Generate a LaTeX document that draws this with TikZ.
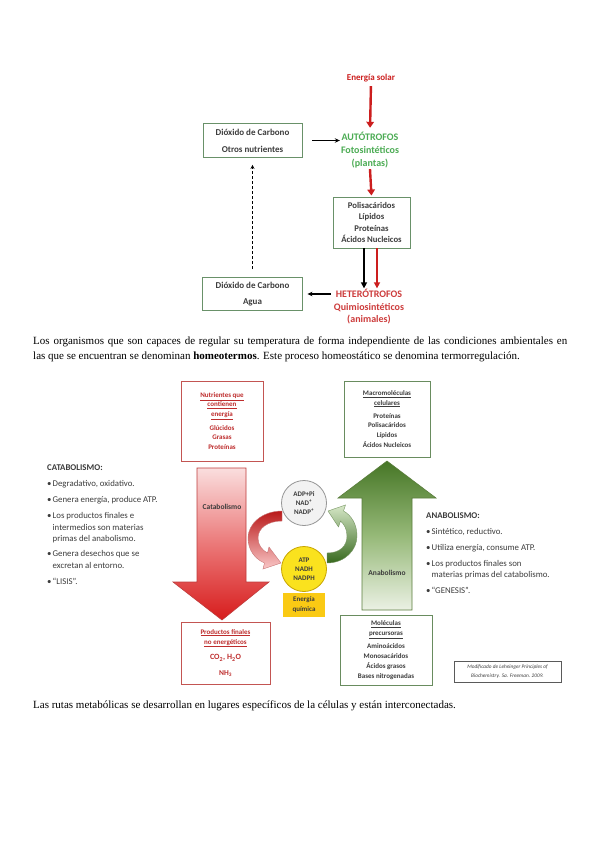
\documentclass[tikz,border=0pt]{standalone}
\usepackage{fontspec}
\setmainfont{Liberation Serif}
\newfontfamily\calib{Carlito}
\usetikzlibrary{arrows.meta}
\definecolor{tgreen}{RGB}{105,145,105}
\definecolor{autgreen}{RGB}{76,172,84}
\definecolor{sred}{RGB}{204,30,30}
\definecolor{hetred}{RGB}{205,60,60}
\definecolor{txtgray}{RGB}{60,60,60}
\definecolor{bred}{RGB}{195,85,82}
\definecolor{bredtext}{RGB}{190,45,45}
\definecolor{bgreen}{RGB}{105,140,95}
\definecolor{pinkt}{RGB}{250,222,222}
\definecolor{redb}{RGB}{215,28,28}
\definecolor{redborder}{RGB}{190,60,60}
\definecolor{gdark}{RGB}{70,118,38}
\definecolor{gmid}{RGB}{150,185,120}
\definecolor{glight}{RGB}{235,241,228}
\definecolor{gborder}{RGB}{90,125,60}
\definecolor{adpfill}{RGB}{242,242,242}
\definecolor{adpborder}{RGB}{150,150,150}
\definecolor{atpfill}{RGB}{250,226,30}
\definecolor{atpborder}{RGB}{200,165,0}
\definecolor{enerfill}{RGB}{250,202,20}
\definecolor{cvredt}{RGB}{185,25,25}
\definecolor{cvredbot}{RGB}{250,200,200}
\definecolor{cvredline}{RGB}{200,120,120}
\definecolor{cvgrt}{RGB}{215,232,200}
\definecolor{cvgrbot}{RGB}{55,105,30}
\definecolor{cvgrline}{RGB}{120,150,100}
\definecolor{citeborder}{RGB}{90,90,90}
\newcommand{\mybul}{\makebox[5.5pt][l]{\textbullet}}
\begin{document}
\begin{tikzpicture}[x=1pt,y=-1pt,
  topbox/.style={draw=tgreen, line width=0.9pt, inner sep=0pt, align=center, text=txtgray, font=\calib\bfseries\fontsize{9}{17}\selectfont},
  redbox/.style={draw=bred, line width=0.8pt, inner sep=0pt, align=center, text=bredtext, font=\calib\bfseries\fontsize{7}{9.5}\selectfont},
  grnbox/.style={draw=bgreen, line width=0.8pt, inner sep=0pt, align=center, text=txtgray, font=\calib\bfseries\fontsize{7}{9.8}\selectfont},
  redarr/.style={draw=sred, line width=2.4pt, -{Triangle[length=6pt,width=7.5pt]}},
  blkarr/.style={draw=black, line width=1.2pt, -{Stealth[length=5pt,width=4.5pt]}},
  downarr/.style={line width=2pt, -{Triangle[length=6pt,width=6pt]}},
  listtxt/.style={anchor=base west, inner sep=0pt, text=txtgray, font=\calib\fontsize{8.8}{11.5}\selectfont},
  listhead/.style={anchor=base west, inner sep=0pt, text=txtgray, font=\calib\bfseries\fontsize{8.8}{11.5}\selectfont},
  para/.style={anchor=base west, inner sep=0pt, font=\fontsize{11}{13}\selectfont},
  cnode/.style={circle, minimum size=45pt, inner sep=0pt, line width=0.8pt, align=center, text=txtgray, font=\calib\bfseries\fontsize{7}{9}\selectfont},
  biglbl/.style={text=txtgray, font=\calib\bfseries\fontsize{7.5}{9}\selectfont}
  ]
\useasboundingbox[fill=white] (0,0) rectangle (599,848);

% ---------- top diagram ----------
\node[font=\calib\bfseries\fontsize{9}{10}\selectfont, text=sred, inner sep=1pt] (sol) at (371,78) {Energía solar};
\node[font=\calib\bfseries\fontsize{10}{13}\selectfont, text=autgreen, align=center, inner sep=1pt] (aut) at (370,150) {AUTÓTROFOS\\Fotosintéticos\\(plantas)};
\node[topbox, minimum width=99pt, minimum height=34pt] (co2a) at (252.5,140.5) {Dióxido de Carbono\\Otros nutrientes};
\node[topbox, minimum width=77pt, minimum height=51pt, font=\calib\bfseries\fontsize{8.7}{11.3}\selectfont] (poli) at (371.5,222.5) {Polisacáridos\\Lípidos\\Proteínas\\Ácidos Nucleicos};
\node[font=\calib\bfseries\fontsize{10}{12.5}\selectfont, text=hetred, align=center, inner sep=1pt] (het) at (369,307) {HETERÓTROFOS\\Quimiosintéticos\\(animales)};
\node[topbox, minimum width=100pt, minimum height=33pt, font=\calib\bfseries\fontsize{9}{16}\selectfont] (co2b) at (252.5,294) {Dióxido de Carbono\\Agua};

\draw[redarr, shorten <=3pt, shorten >=3pt] (sol.south) -- (aut.north);
\draw[redarr, shorten >=1pt] (aut.south) -- (poli.north);
\draw[blkarr, shorten <=10pt] (co2a.east) -- (co2a.east -| aut.west);
\draw[downarr, draw=black] ([xshift=-7.5pt]poli.south) -- ([xshift=-7.5pt]poli.south |- het.north);
\draw[downarr, draw=sred] ([xshift=5.5pt]poli.south) -- ([xshift=5.5pt]poli.south |- het.north);
\draw[blkarr, shorten <=2pt, shorten >=4.5pt] (het.west |- co2b.east) -- (co2b.east);
\draw[line width=1.3pt, dashed, dash pattern=on 3pt off 2pt, -{Stealth[length=4pt,width=4pt]}, shorten <=8pt, shorten >=7pt] (co2b.north) -- (co2a.south);

% ---------- paragraph ----------
\node[para] (p1) at (33,344.5) {\makebox[534pt][s]{Los organismos que son capaces de regular su temperatura de forma independiente de las condiciones ambientales en}};
\node[para] (p2) at (33,359.5) {las que se encuentran se denominan \textbf{homeotermos}. Este proceso homeostático se denomina termorregulación.};

% ---------- bottom diagram ----------
\node[redbox, minimum width=82pt, minimum height=80pt] (nutr) at (222,421) {\underline{Nutrientes que}\\\underline{contienen}\\\underline{energía}\\[4.5pt]Glúcidos\\Grasas\\Proteínas};
\node[grnbox, minimum width=86pt, minimum height=76pt] (macro) at (387,419) {\underline{Macromoléculas}\\\underline{celulares}\\[3.3pt]Proteínas\\Polisacáridos\\Lípidos\\Ácidos Nucleicos};

% big red arrow (catabolism)
\path[draw=redborder, line width=0.6pt, top color=pinkt, bottom color=redb, middle color={rgb,255:red,235;green,120;blue,120}]
  (197,468) -- (246,468) -- (246,582) -- (269,582) -- (222,620) -- (173,582) -- (197,582) -- cycle;
\node[biglbl] (catl) at (222,507) {Catabolismo};

% big green arrow (anabolism)
\path[draw=gborder, line width=0.6pt, top color=gdark, bottom color=glight, middle color=gmid]
  (362,610) -- (362,498) -- (338,498) -- (387,461) -- (436,498) -- (412,498) -- (412,610) -- cycle;
\node[biglbl] (anal) at (387,573) {Anabolismo};

\node[redbox, minimum width=89pt, minimum height=62pt, font=\calib\bfseries\fontsize{7}{9.8}\selectfont] (prod) at (225.5,653) {\underline{Productos finales}\\\underline{no energéticos}\\[6pt]{\fontsize{8}{9}\selectfont CO\textsubscript{2}, H\textsubscript{2}O}\\[6pt]{\fontsize{7.5}{9}\selectfont NH\textsubscript{3}}};
\node[grnbox, minimum width=92pt, minimum height=70pt] (molec) at (386,650) {\underline{Moléculas}\\\underline{precursoras}\\[3.3pt]Aminoácidos\\Monosacáridos\\Ácidos grasos\\Bases nitrogenadas};

% circles
\node[cnode, fill=adpfill, draw=adpborder] (adp) at (304,503) {ADP+Pi\\NAD\textsuperscript{+}\\NADP\textsuperscript{+}};
\node[cnode, fill=atpfill, draw=atpborder] (atp) at (304,569) {ATP\\NADH\\NADPH};
\node[fill=enerfill, minimum width=42pt, minimum height=24pt, inner sep=0pt, align=center, text=txtgray, font=\calib\bfseries\fontsize{7}{10}\selectfont] (ener) at (304,605) {Energía\\química};

% curved red arrow
\path[draw=cvredline, line width=0.4pt, top color=cvredt, bottom color=cvredbot]
  (282,511) .. controls (262,511) and (248,524) .. (248,538)
  .. controls (248,550) and (255,559) .. (264.5,563)
  -- (263,569) -- (281,563) -- (269,547) -- (267.5,553)
  .. controls (262,550) and (258,545) .. (258,538)
  .. controls (258,528) and (268,521) .. (282,521) -- cycle;
% curved green arrow
\path[draw=cvgrline, line width=0.4pt, top color=cvgrt, bottom color=cvgrbot]
  (327,563) .. controls (345,563) and (357,550) .. (357,536)
  .. controls (357,524) and (351,515) .. (343.5,511)
  -- (345.5,505) -- (328,511) -- (338.5,527) -- (340.5,521)
  .. controls (344,524) and (347,529) .. (347,536)
  .. controls (347,546) and (340,553) .. (327,553) -- cycle;

% catabolism list
\node[listhead] (cath) at (47,470.5) {CATABOLISMO:};
\node[listtxt] (c1) at (47,486.5) {\mybul Degradativo, oxidativo.};
\node[listtxt] (c2) at (47,502.5) {\mybul Genera energía, produce ATP.};
\node[listtxt] (c3) at (47,518.5) {\mybul\begin{tabular}[t]{@{}l@{}}Los productos finales e\\intermedios son materias\\primas del anabolismo.\end{tabular}};
\node[listtxt] (c4) at (47,556.5) {\mybul\begin{tabular}[t]{@{}l@{}}Genera desechos que se\\excretan al entorno.\end{tabular}};
\node[listtxt] (c5) at (47,584.5) {\mybul “LISIS”.};

% anabolism list
\node[listhead] (anh) at (426,518.5) {ANABOLISMO:};
\node[listtxt] (a1) at (426,534.5) {\mybul Sintético, reductivo.};
\node[listtxt] (a2) at (426,550.5) {\mybul Utiliza energía, consume ATP.};
\node[listtxt] (a3) at (426,566) {\mybul\begin{tabular}[t]{@{}l@{}}Los productos finales son\\materias primas del catabolismo.\end{tabular}};
\node[listtxt] (a4) at (426,593.5) {\mybul “GENESIS”.};

% citation
\node[draw=citeborder, line width=0.6pt, minimum width=107pt, minimum height=21pt, inner sep=0pt, align=center, text=txtgray, font=\calib\itshape\fontsize{5.3}{9}\selectfont] (cite) at (507.5,671.5) {Modificado de Lehninger Principles of\\Biochemistry. 5a. Freeman. 2009.};

% last paragraph
\node[para] (p3) at (33,708.5) {Las rutas metabólicas se desarrollan en lugares específicos de la células y están interconectadas.};
\end{tikzpicture}
\end{document}
